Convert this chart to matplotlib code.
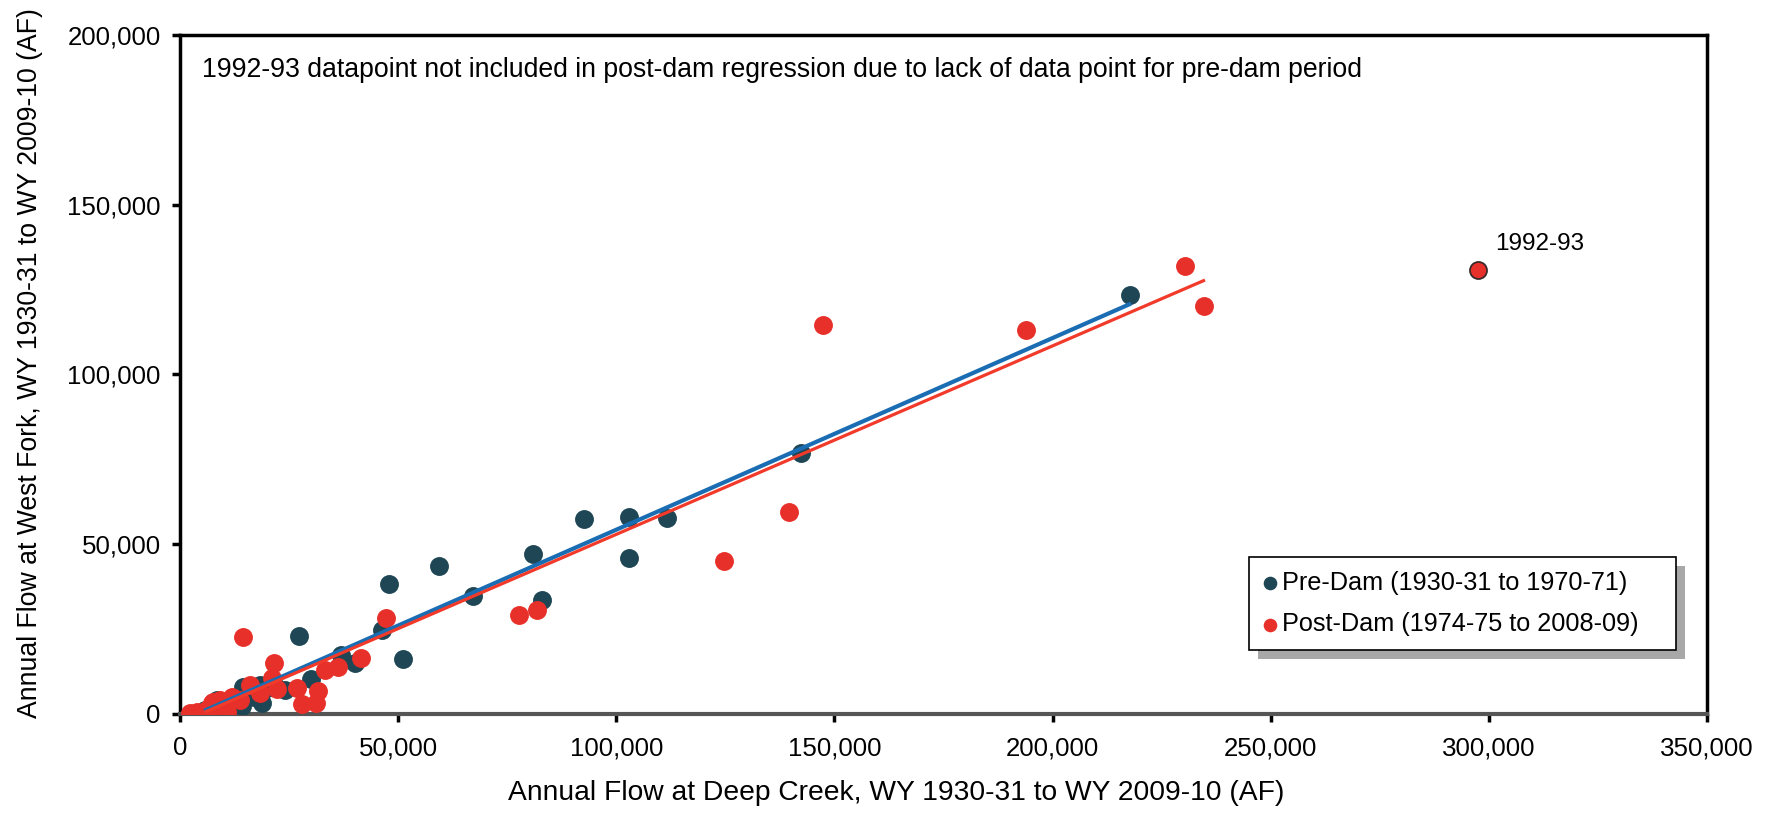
import matplotlib
matplotlib.use("Agg")
import matplotlib.pyplot as plt
from matplotlib.patches import Rectangle
from matplotlib.ticker import FuncFormatter
import numpy as np

plt.rcParams['font.family'] = ['Liberation Sans', 'DejaVu Sans']

# Pre-dam annual flows (Deep Creek, West Fork), AF
pre_x = [5700, 6500, 7500, 8400, 8800, 9500, 10000, 11000, 12500, 13000, 14100, 14500,
         15500, 16500, 17000, 18300, 18700, 20000, 22000, 24000, 27300, 30000, 37000,
         40000, 46300, 48000, 51200, 59400, 67100, 81000, 82900, 92500, 103000, 103000,
         111600, 142300, 217800]
pre_y = [1200, 800, 2000, 4100, 500, 2500, 3500, 1500, 3000, 5000, 2200, 8000,
         6000, 7500, 5000, 8500, 3200, 7500, 8000, 7100, 23000, 10300, 17400,
         14900, 24700, 38400, 16200, 43700, 34800, 47100, 33600, 57300, 58100, 46000,
         57800, 76800, 123400]

# Post-dam annual flows (1992-93 kept separate)
post_x = [2300, 4000, 5300, 6500, 7300, 7600, 9200, 10300, 10700, 11900, 13800, 14500,
          16000, 18300, 21000, 21600, 22200, 26800, 27900, 31200, 31700, 33200, 36300,
          41400, 47200, 77700, 81900, 124700, 139500, 147300, 194000, 230400, 234800]
post_y = [200, 500, 700, 1500, 3200, 3600, 4100, 700, 700, 5100, 4100, 22600,
          8500, 6100, 10500, 14900, 7300, 7600, 3000, 3200, 6900, 13000, 13700,
          16400, 28400, 29200, 30600, 45200, 59600, 114600, 113100, 132000, 120200]
outlier_x = [297400]
outlier_y = [130800]
outlier_label = "1992-93"

# regression lines: slope, intercept, x range
pre_fit = [0.5646, -2185]
pre_fit_range = [5960, 217560]
post_fit = [0.5552, -2619]
post_fit_range = [5960, 234600]

note = "1992-93 datapoint not included in post-dam regression due to lack of data point for pre-dam period"

dark = '#1e4654'
red = '#e8302a'
blue_line = '#1a6db3'
red_line = '#f23a2a'

fig = plt.figure(figsize=(17.77, 8.14), dpi=100)
ax = fig.add_axes([0.1013, 0.1229, 0.8593, 0.8341])

ax.scatter(pre_x, pre_y, s=185, color=dark, zorder=3, linewidths=0,
           label="Pre-Dam (1930-31 to 1970-71)")
ax.scatter(post_x, post_y, s=185, color=red, zorder=4, linewidths=0,
           label="Post-Dam (1974-75 to 2008-09)")
ax.scatter(outlier_x, outlier_y, s=150, color=red, edgecolors='#3a2a2a',
           linewidths=1.3, zorder=4)
ax.annotate(outlier_label, (outlier_x[0], outlier_y[0]), xytext=(13, 14),
            textcoords='offset points', fontsize=17.5)

xs = np.array(pre_fit_range)
ax.plot(xs, pre_fit[0] * xs + pre_fit[1], color=blue_line, lw=3, zorder=5)
xs = np.array(post_fit_range)
ax.plot(xs, post_fit[0] * xs + post_fit[1], color=red_line, lw=2.3, zorder=5)

ax.text(0.0145, 0.968, note, transform=ax.transAxes, fontsize=19.2, va='top')

ax.set_xlim(0, 350000)
ax.set_ylim(0, 200000)
ax.set_xticks(np.arange(0, 350001, 50000))
ax.set_yticks(np.arange(0, 200001, 50000))
fmt = FuncFormatter(lambda v, p: f"{int(v):,}")
ax.xaxis.set_major_formatter(fmt)
ax.yaxis.set_major_formatter(fmt)
ax.tick_params(axis='both', labelsize=18.6, width=2.5, length=6, direction='out', color='black')
ax.tick_params(axis='x', pad=10)
ax.tick_params(axis='y', pad=8)

for side in ['left', 'right', 'top']:
    ax.spines[side].set_linewidth(2.5)
    ax.spines[side].set_color('black')
ax.spines['bottom'].set_linewidth(3)
ax.spines['bottom'].set_color('#555555')

ax.set_xlabel("Annual Flow at Deep Creek, WY 1930-31 to WY 2009-10 (AF)", fontsize=20.3, labelpad=14)
ax.set_ylabel("Annual Flow at West Fork, WY 1930-31 to WY 2009-10 (AF)", fontsize=19.2, labelpad=17)
ax.xaxis.label.set_x(0.469)
ax.yaxis.label.set_y(0.517)

leg = ax.legend(loc='lower left', bbox_to_anchor=(0.7003, 0.094), borderaxespad=0,
                fontsize=18.2, markerscale=0.72, handletextpad=0.25, handlelength=0.5,
                borderpad=0.55, labelspacing=0.7, fancybox=False, framealpha=1)
leg.get_frame().set_visible(False)
leg.set_zorder(11)

# legend frame (wider on the right) and its drop shadow
fig.canvas.draw()
bb = leg.get_window_extent().transformed(ax.transAxes.inverted())
box_right = 0.98
off_x = 9 / ax.bbox.width
off_y = 9 / ax.bbox.height
ax.add_patch(Rectangle((bb.x0 + off_x, bb.y0 - off_y), box_right - bb.x0, bb.height,
                       transform=ax.transAxes, color='#a8a8a8', zorder=9, lw=0))
ax.add_patch(Rectangle((bb.x0, bb.y0), box_right - bb.x0, bb.height,
                       transform=ax.transAxes, facecolor='white', edgecolor='black',
                       zorder=10, lw=1.2))

fig.savefig("out.png", dpi=100)
